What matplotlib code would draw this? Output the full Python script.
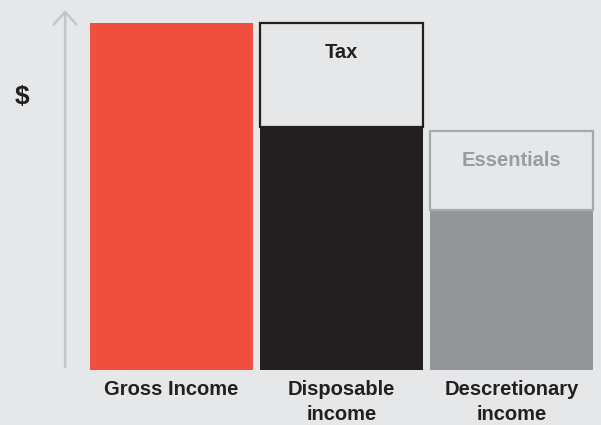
import matplotlib.pyplot as plt

# ---------- Data ----------
categories = ["Gross Income", "Disposable\nincome", "Descretionary\nincome"]
base_values = [100, 70, 46]          # solid part of each bar
top_values = [0, 30, 23]             # outlined slice stacked on top
top_labels = ["", "Tax", "Essentials"]

bg = "#e6e7e8"
bar_colors = ["#f04e3e", "#231f20", "#939598"]
edge_colors = ["none", "#231f20", "#a7a8aa"]
label_colors = ["none", "#231f20", "#9a9b9d"]

plt.rcParams["font.family"] = ["Liberation Sans", "DejaVu Sans"]

fig = plt.figure(figsize=(6.01, 4.25), dpi=100, facecolor=bg)
ax = fig.add_axes([0, 0, 1, 1])
ax.set_facecolor(bg)
ax.set_xlim(-1.009, 2.526)
ax.set_ylim(-15.85, 106.63)
ax.axis("off")

x = list(range(len(categories)))
width = 0.96

# solid bars
ax.bar(x, base_values, width=width, color=bar_colors, linewidth=0)

# outlined slices on top
for i in x:
    if top_values[i] <= 0:
        continue
    ax.bar(i, top_values[i], bottom=base_values[i], width=width - 0.005,
           color=bg, edgecolor=edge_colors[i], linewidth=1.6)
    ax.text(i, base_values[i] + top_values[i] - 8.6, top_labels[i],
            ha="center", va="center", fontsize=14.5, fontweight="bold",
            color=label_colors[i])

# category labels under the bars
for i, name in enumerate(categories):
    ax.text(i, -3.0, name, ha="center", va="top", fontsize=14.5,
            fontweight="bold", color="#231f20", linespacing=1.35)

# vertical axis arrow and "$" marker
ax.annotate("", xy=(-0.626, 104.5), xytext=(-0.626, 0),
            arrowprops=dict(arrowstyle="->,head_length=0.6,head_width=0.55",
                            mutation_scale=15, color="#c4c5c7", lw=1.8))
ax.text(-0.882, 78.6, "$", ha="center", va="center", fontsize=19,
        fontweight="bold", color="#231f20")

fig.savefig("out.png", dpi=100, facecolor=bg)
